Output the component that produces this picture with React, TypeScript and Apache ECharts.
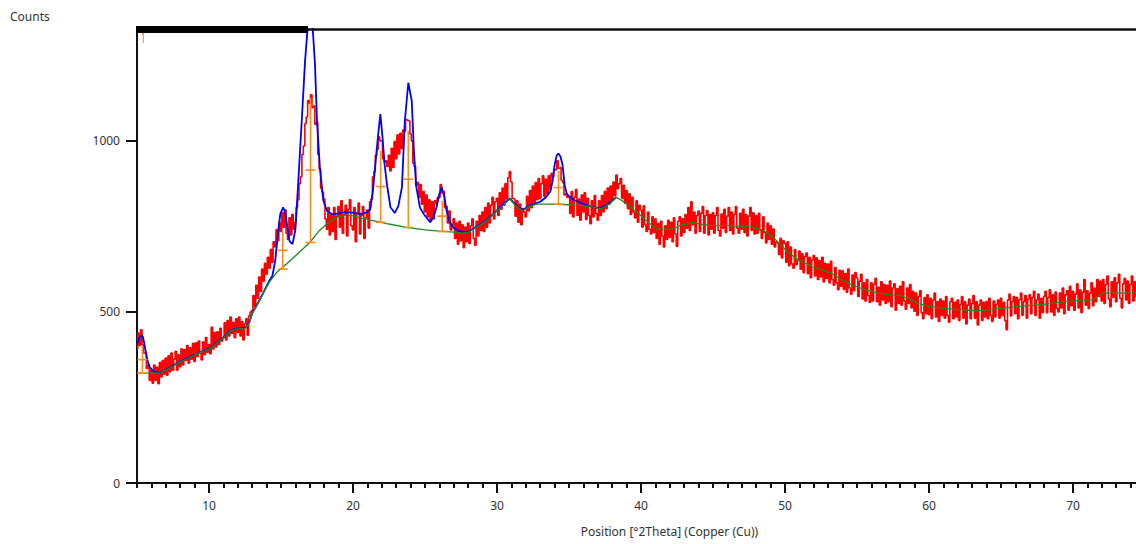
import React, { useEffect, useRef } from "react";
import * as echarts from "echarts";

// ---- Data ----
const X_TITLE = "Position [°2Theta] (Copper (Cu))";
const Y_TITLE = "Counts";
const X_MAJOR_TICKS = [10, 20, 30, 40, 50, 60, 70];
const Y_TICKS = [0, 500, 1000];

// Observed counts (red), sampled every 0.1 °2Theta from 5.0
const RED_START = 5.0;
const RED_STEP = 0.1;
const RED_COUNTS = [
  392, 438, 402, 448, 405, 380, 382, 335, 345, 300,
  330, 292, 345, 300, 338, 290, 352, 310, 358, 318,
  365, 315, 372, 325, 380, 330, 362, 385, 330, 375,
  340, 392, 345, 390, 358, 402, 350, 395, 362, 408,
  355, 410, 370, 415, 380, 360, 412, 375, 425, 382,
  405, 378, 455, 392, 440, 398, 442, 405, 452, 415,
  425, 468, 418, 475, 430, 485, 438, 470, 425, 480,
  440, 485, 430, 472, 418, 465, 480, 432, 488, 500,
  505, 548, 515, 578, 540, 602, 560, 625, 590, 642,
  610, 660, 628, 682, 645, 705, 690, 740, 708, 762,
  735, 790, 748, 798, 730, 712, 775, 725, 785, 742,
  762, 805, 828, 875, 895, 960, 985, 1050, 1070, 1118,
  1110, 1135, 1098, 1102, 1048, 1055, 960, 918, 862, 850,
  830, 772, 742, 805, 725, 785, 735, 805, 712, 780,
  808, 748, 825, 730, 785, 812, 722, 800, 828, 752,
  740, 805, 705, 790, 818, 728, 782, 808, 715, 775,
  798, 745, 822, 830, 895, 910, 958, 975, 1012, 1000,
  1000, 948, 938, 942, 925, 958, 912, 978, 922, 998,
  948, 1018, 962, 1022, 978, 1032, 1028, 1062, 1060, 1058,
  1020, 1000, 935, 925, 870, 878, 835, 872, 815, 852,
  792, 842, 778, 828, 765, 822, 772, 825, 818, 835,
  835, 872, 848, 852, 805, 808, 760, 795, 740, 755,
  772, 715, 760, 698, 765, 708, 755, 688, 748, 705,
  760, 700, 752, 772, 715, 695, 765, 722, 782, 738,
  792, 735, 805, 748, 818, 760, 812, 835, 772, 822,
  832, 782, 848, 800, 862, 812, 875, 830, 892, 910,
  880, 832, 830, 780, 825, 762, 815, 755, 802, 792,
  778, 838, 795, 855, 805, 868, 818, 878, 828, 890,
  832, 875, 898, 838, 888, 845, 898, 858, 905, 895,
  918, 915, 942, 920, 922, 885, 878, 842, 845, 835,
  838, 788, 852, 778, 835, 858, 782, 830, 768, 842,
  792, 848, 770, 832, 782, 758, 825, 778, 840, 788,
  768, 825, 782, 840, 792, 852, 802, 862, 815, 868,
  828, 880, 840, 900, 860, 875, 890, 832, 870, 818,
  855, 802, 845, 785, 835, 792, 775, 825, 762, 812,
  798, 748, 810, 755, 735, 792, 742, 728, 778, 732,
  772, 715, 758, 698, 765, 722, 690, 752, 712, 768,
  718, 762, 705, 775, 728, 692, 765, 778, 722, 772,
  732, 785, 745, 805, 738, 822, 755, 792, 730, 782,
  795, 735, 788, 808, 730, 782, 796, 725, 785, 742,
  790, 730, 782, 805, 738, 722, 786, 745, 800, 732,
  780, 805, 738, 792, 728, 785, 808, 745, 730, 788,
  742, 800, 732, 785, 722, 780, 805, 738, 790, 728,
  782, 730, 788, 740, 715, 778, 732, 702, 760, 712,
  752, 698, 742, 690, 705, 702, 668, 715, 658, 708,
  700, 645, 705, 635, 690, 640, 628, 682, 638, 650,
  678, 625, 670, 615, 662, 672, 612, 660, 600, 652,
  665, 605, 658, 595, 650, 602, 660, 588, 642, 598,
  640, 585, 648, 595, 578, 630, 585, 565, 622, 575,
  620, 566, 612, 558, 625, 570, 552, 608, 562, 615,
  600, 545, 590, 610, 538, 585, 532, 595, 548, 528,
  585, 532, 580, 598, 530, 572, 520, 588, 535, 580,
  525, 578, 530, 590, 515, 570, 582, 505, 568, 525,
  575, 520, 588, 532, 508, 570, 525, 580, 512, 560,
  502, 555, 490, 545, 562, 498, 480, 542, 495, 550,
  492, 540, 480, 535, 555, 485, 530, 472, 538, 490,
  532, 482, 545, 490, 470, 530, 540, 480, 528, 485,
  535, 475, 522, 545, 482, 530, 465, 520, 538, 480,
  525, 548, 482, 530, 462, 520, 535, 475, 528, 485,
  530, 480, 540, 490, 472, 532, 485, 522, 535, 482,
  540, 490, 528, 475, 448, 535, 552, 488, 530, 545,
  495, 542, 480, 535, 555, 490, 530, 548, 482, 538,
  550, 495, 542, 560, 490, 535, 552, 482, 540, 498,
  545, 560, 498, 542, 565, 500, 550, 490, 558, 510,
  500, 555, 512, 570, 495, 550, 562, 505, 575, 518,
  560, 505, 552, 582, 512, 565, 498, 558, 595, 520,
  562, 510, 555, 585, 518, 570, 530, 595, 545, 590,
  532, 595, 525, 580, 605, 538, 515, 588, 542, 600,
  530, 585, 610, 540, 512, 582, 598, 535, 590, 525,
  580, 605, 532, 588, 545,
];

// Calculated profile (blue): [2Theta, counts]
const CALC_PROFILE = [
  [5.0, 405], [5.1, 418], [5.2, 428], [5.3, 431], [5.4, 428], [5.5, 410], [5.6, 385],
  [5.7, 364], [5.8, 348], [5.9, 338], [6.1, 328], [6.3, 324], [6.6, 322], [7.0, 331],
  [7.5, 343], [8.0, 355], [8.5, 365], [9.0, 375], [9.5, 385], [10.1, 394], [10.5, 409],
  [11.0, 426], [11.5, 444], [11.8, 451], [12.5, 453], [12.8, 469], [13.0, 496], [13.4, 526],
  [13.75, 554], [14.2, 592], [14.4, 605], [14.6, 650], [14.8, 735], [14.95, 786], [15.15, 806],
  [15.3, 790], [15.45, 745], [15.6, 706], [15.8, 698], [16.0, 740], [16.2, 880], [16.44, 1058],
  [16.67, 1233], [16.85, 1330], [17.05, 1365], [17.2, 1330], [17.36, 1224], [17.5, 1058],
  [17.7, 922], [17.94, 825], [18.2, 795], [18.6, 785], [19.0, 788], [19.5, 792], [20.0, 790],
  [20.5, 786], [20.9, 790], [21.2, 800], [21.4, 860], [21.55, 930], [21.75, 1020], [21.9, 1078],
  [22.05, 1010], [22.2, 930], [22.35, 874], [22.6, 806], [22.9, 789], [23.15, 810], [23.4, 865],
  [23.6, 1058], [23.84, 1170], [24.08, 1117], [24.24, 962], [24.4, 864], [24.65, 805], [24.9, 787],
  [25.35, 762], [25.6, 778], [25.8, 806], [26.0, 845], [26.16, 864], [26.35, 835], [26.5, 796],
  [26.7, 765], [26.97, 747], [27.3, 737], [27.66, 733], [28.0, 735], [28.6, 750], [29.3, 769],
  [30.0, 797], [30.5, 817], [30.9, 832], [31.3, 812], [31.8, 798], [32.2, 810], [32.75, 818],
  [33.0, 822], [33.4, 835], [33.7, 852], [33.85, 880], [34.0, 930], [34.15, 958], [34.26, 963],
  [34.4, 955], [34.55, 930], [34.7, 870], [34.85, 845], [35.07, 835], [35.4, 826], [35.76, 820],
  [36.2, 812], [36.7, 806], [37.2, 803], [37.8, 818], [38.3, 836],
];

// Background (green): [2Theta, counts]
const BACKGROUND = [
  [5.0, 321], [5.5, 321], [6.0, 322], [6.6, 321], [7.0, 330], [7.5, 342], [8.0, 354], [8.5, 364],
  [9.0, 374], [9.5, 384], [10.1, 393], [10.5, 408], [11.0, 425], [11.5, 443], [11.8, 450],
  [12.5, 452], [12.8, 468], [13.0, 495], [13.4, 525], [13.75, 553], [14.2, 588], [14.7, 615],
  [15.4, 641], [16.1, 668], [17.0, 703], [17.6, 735], [18.2, 758], [18.8, 775], [19.3, 781],
  [19.6, 784], [20.0, 781], [20.6, 774], [21.4, 767], [22.5, 757], [23.7, 747], [25.0, 740],
  [26.0, 736], [27.0, 733], [27.6, 730], [28.0, 733], [28.6, 748], [29.3, 767], [30.0, 795],
  [30.5, 815], [30.9, 830], [31.3, 810], [31.8, 796], [32.2, 808], [32.75, 815], [33.5, 815],
  [34.5, 814], [35.5, 812], [36.5, 808], [37.2, 801], [37.8, 815], [38.3, 835], [38.8, 822],
  [39.3, 805], [39.9, 785], [40.5, 762], [41.1, 742], [42.2, 742], [42.7, 752], [43.6, 762],
  [44.3, 755], [45.0, 752], [46.0, 752], [47.0, 750], [47.8, 747], [48.5, 738], [49.2, 718],
  [49.6, 700], [50.1, 679], [50.6, 662], [51.0, 650], [51.5, 641], [52.0, 630], [52.4, 626],
  [53.3, 611], [54.0, 592], [54.7, 578], [55.7, 563], [56.5, 555], [57.3, 550], [58.0, 548],
  [58.6, 538], [59.2, 525], [60.3, 514], [61.2, 510], [62.0, 507], [62.8, 505], [63.5, 504],
  [64.3, 506], [64.9, 510], [65.8, 514], [66.7, 518], [67.6, 521], [68.4, 524], [69.4, 530],
  [70.4, 534], [71.4, 536], [71.7, 545], [72.1, 555], [73.0, 555], [74.4, 555],
];

// Peak markers (orange): [2Theta, background counts, peak-top counts]
const PEAK_POSITIONS = [5.38, 15.12, 17.05, 21.92, 23.84, 26.2, 34.27];
const PEAK_BASES = [321, 625, 703, 762, 747, 735, 815];
const PEAK_TOPS = [400, 735, 1126, 971, 1029, 825, 912];

// small orange reference mark near the top-left corner
const REF_MARK = [[5.36, 1309], [5.44, 1317], [5.44, 1286]];

const X_MIN = 5;
const X_MAX = 74.375;
const Y_MAX = 1327;

const FONT = "'Noto Sans', 'Open Sans', sans-serif";
const RED = "#ff0000";
const BLUE = "#0000ff";
const GREEN = "#1e8a1e";
const ORANGE = "#ff8c1a";

export default function App() {
  const ref = useRef<HTMLDivElement>(null);

  useEffect(() => {
    if (!ref.current) return;
    const chart = echarts.init(ref.current, undefined, { renderer: "svg" });

    const redData = RED_COUNTS.map((v, i) => [Number((RED_START + i * RED_STEP).toFixed(2)), v]);
    const peakData = PEAK_POSITIONS.map((x, i) => [x, PEAK_BASES[i], PEAK_TOPS[i]]);
    const minorTicks: number[] = [];
    for (let t = 5; t <= 74; t++) minorTicks.push(t);

    const option: any = {
      animation: false,
      backgroundColor: "#ffffff",
      grid: { left: 137, right: 0, top: 29, bottom: 61, containLabel: false },
      xAxis: [
        {
          type: "value",
          min: X_MIN,
          max: X_MAX,
          name: X_TITLE,
          nameLocation: "middle",
          nameGap: 42,
          nameTextStyle: { fontFamily: FONT, fontSize: 12, color: "#333", padding: [0, 0, 0, 66] },
          axisLine: { show: true, onZero: false, lineStyle: { color: "#111", width: 2 } },
          axisTick: { show: true, customValues: X_MAJOR_TICKS, length: 10, lineStyle: { color: "#111", width: 2 } },
          axisLabel: {
            customValues: X_MAJOR_TICKS,
            margin: 16,
            fontFamily: FONT,
            fontSize: 12,
            color: "#333",
            formatter: (v: number) => String(v),
          },
          splitLine: { show: false },
        },
        {
          type: "value",
          min: X_MIN,
          max: X_MAX,
          position: "bottom",
          axisLine: { show: false, onZero: false },
          axisTick: { show: true, customValues: minorTicks, length: 5, lineStyle: { color: "#111", width: 2 } },
          axisLabel: { show: false },
          splitLine: { show: false },
        },
      ],
      yAxis: {
        type: "value",
        min: 0,
        max: Y_MAX,
        axisLine: { show: true, lineStyle: { color: "#111", width: 2 } },
        axisTick: { show: true, customValues: Y_TICKS, length: 11, lineStyle: { color: "#111", width: 2 } },
        axisLabel: {
          customValues: Y_TICKS,
          margin: 17,
          fontFamily: FONT,
          fontSize: 12,
          color: "#333",
          formatter: (v: number) => String(v),
        },
        splitLine: { show: false },
      },
      graphic: [
        { type: "text", left: 10, top: 10, style: { text: Y_TITLE, fontFamily: FONT, fontSize: 12, fill: "#333" } },
        { type: "line", shape: { x1: 137, y1: 29.5, x2: 1136, y2: 29.5 }, style: { stroke: "#111", lineWidth: 2.5 }, z: 100 },
        { type: "rect", shape: { x: 136, y: 26, width: 172, height: 7 }, style: { fill: "#000" }, z: 101 },
      ],
      series: [
        {
          name: "Observed",
          type: "line",
          data: redData,
          showSymbol: false,
          step: "middle",
          lineStyle: { color: RED, width: 1.6 },
          z: 2,
        },
        {
          name: "Calculated",
          type: "line",
          data: CALC_PROFILE,
          showSymbol: false,
          lineStyle: { color: BLUE, width: 1.8 },
          z: 3,
        },
        {
          name: "Background",
          type: "line",
          data: BACKGROUND,
          showSymbol: false,
          lineStyle: { color: GREEN, width: 1.3 },
          z: 4,
        },
        {
          name: "Peaks",
          type: "custom",
          data: peakData,
          encode: { x: 0, y: [1, 2] },
          z: 5,
          renderItem: (params: any, api: any) => {
            const x = api.value(0);
            const b = api.value(1);
            const t = api.value(2);
            const pb = api.coord([x, b]);
            const pt = api.coord([x, t]);
            const pm = api.coord([x, (b + t) / 2]);
            const hw = 5;
            const style = { stroke: ORANGE, lineWidth: 1.6, fill: null };
            return {
              type: "group",
              children: [
                { type: "line", shape: { x1: pb[0], y1: pb[1], x2: pt[0], y2: pt[1] }, style },
                { type: "line", shape: { x1: pb[0] - hw, y1: pb[1], x2: pb[0] + hw, y2: pb[1] }, style },
                { type: "line", shape: { x1: pm[0] - hw, y1: pm[1], x2: pm[0] + hw, y2: pm[1] }, style },
              ],
            };
          },
        },
        {
          name: "Reference",
          type: "line",
          data: REF_MARK,
          showSymbol: false,
          lineStyle: { color: ORANGE, width: 1 },
          z: 5,
        },
      ],
    };

    chart.setOption(option);
    return () => chart.dispose();
  }, []);

  return (
    <div
      ref={ref}
      style={{ position: "fixed", left: 0, top: 0, width: 1136, height: 544, background: "#fff" }}
    />
  );
}
